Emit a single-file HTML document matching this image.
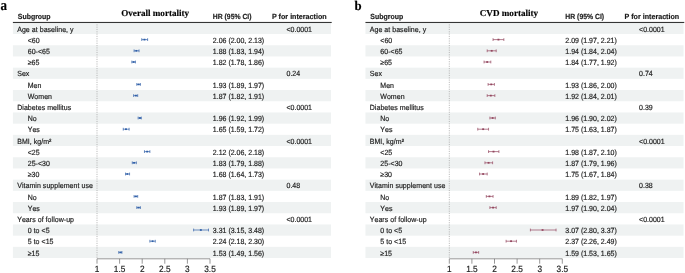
<!DOCTYPE html>
<html><head><meta charset="utf-8"><title>Forest plot</title>
<style>
html,body{margin:0;padding:0;background:#fff;}
svg{display:block}
text{font-family:"Liberation Sans",sans-serif;fill:#1c1c1c;text-rendering:geometricPrecision;stroke:#1c1c1c;stroke-width:0.18px}
.c{font-size:7.5px;font-kerning:none}
.l{letter-spacing:0.045px}
.h{font-size:7.45px;font-weight:bold}
.a{font-size:9.1px}
.t{font-family:"Liberation Serif",serif;font-weight:bold;font-size:9.1px;fill:#000}
.lab{font-family:"Liberation Serif",serif;font-weight:bold;font-size:14.7px;fill:#000}
</style></head><body>
<svg width="685" height="273" viewBox="0 0 685 273">
<rect width="685" height="273" fill="#fff"/>
<text transform="translate(0.6 9.95) scale(0.885 1)" class="lab">a</text>
<rect x="12.90" y="22.85" width="318.10" height="11.20" fill="#eff2f2"/>
<rect x="12.90" y="45.25" width="318.10" height="11.20" fill="#eff2f2"/>
<rect x="12.90" y="67.65" width="318.10" height="11.20" fill="#eff2f2"/>
<rect x="12.90" y="90.05" width="318.10" height="11.20" fill="#eff2f2"/>
<rect x="12.90" y="112.45" width="318.10" height="11.20" fill="#eff2f2"/>
<rect x="12.90" y="134.85" width="318.10" height="11.20" fill="#eff2f2"/>
<rect x="12.90" y="157.25" width="318.10" height="11.20" fill="#eff2f2"/>
<rect x="12.90" y="179.65" width="318.10" height="11.20" fill="#eff2f2"/>
<rect x="12.90" y="202.05" width="318.10" height="11.20" fill="#eff2f2"/>
<rect x="12.90" y="224.45" width="318.10" height="11.20" fill="#eff2f2"/>
<rect x="12.90" y="246.85" width="318.10" height="11.20" fill="#eff2f2"/>
<rect x="12.90" y="21.92" width="318.80" height="1.1" fill="#353535"/>
<line x1="97.00" y1="24.35" x2="97.00" y2="258.05" stroke="#a8a8a8" stroke-width="0.8" stroke-dasharray="1.1 1.2"/>
<text transform="translate(17.80 19.00) scale(0.934 1)" class="h">Subgroup</text>
<text transform="translate(155.20 16.10) scale(1 1)" class="t" text-anchor="middle">Overall mortality</text>
<text transform="translate(212.80 19.00) scale(0.9183087248322148 1)" class="h">HR (95% CI)</text>
<text transform="translate(272.00 19.00) scale(0.9607248322147652 1)" class="h">P for interaction</text>
<text transform="translate(17.20 31.60) scale(0.934 1)" class="c l">Age at baseline, y</text>
<text transform="translate(286.50 31.60) scale(0.934 1)" class="c">&lt;0.0001</text>
<text transform="translate(27.70 42.80) scale(0.934 1)" class="c l">&lt;60</text>
<text transform="translate(212.80 42.80) scale(0.934 1)" class="c">2.06 (2.00, 2.13)</text>
<g stroke="#2f5fa8" stroke-width="0.7" fill="#2f5fa8"><line x1="141.75" y1="39.60" x2="147.61" y2="39.60"/><line x1="141.75" y1="38.20" x2="141.75" y2="41.00"/><line x1="147.61" y1="38.20" x2="147.61" y2="41.00"/><rect x="143.51" y="38.75" width="1.9" height="1.7" stroke="none"/></g>
<text transform="translate(27.70 54.00) scale(0.934 1)" class="c l">60-&lt;65</text>
<text transform="translate(212.80 54.00) scale(0.934 1)" class="c">1.88 (1.83, 1.94)</text>
<g stroke="#2f5fa8" stroke-width="0.7" fill="#2f5fa8"><line x1="134.08" y1="50.80" x2="139.04" y2="50.80"/><line x1="134.08" y1="49.40" x2="134.08" y2="52.20"/><line x1="139.04" y1="49.40" x2="139.04" y2="52.20"/><rect x="135.39" y="49.95" width="1.9" height="1.7" stroke="none"/></g>
<text transform="translate(27.70 65.20) scale(0.934 1)" class="c l">≥65</text>
<text transform="translate(212.80 65.20) scale(0.934 1)" class="c">1.82 (1.78, 1.86)</text>
<g stroke="#2f5fa8" stroke-width="0.7" fill="#2f5fa8"><line x1="131.83" y1="62.00" x2="135.44" y2="62.00"/><line x1="131.83" y1="60.60" x2="131.83" y2="63.40"/><line x1="135.44" y1="60.60" x2="135.44" y2="63.40"/><rect x="132.68" y="61.15" width="1.9" height="1.7" stroke="none"/></g>
<text transform="translate(17.20 76.40) scale(0.934 1)" class="c l">Sex</text>
<text transform="translate(286.50 76.40) scale(0.934 1)" class="c">0.24</text>
<text transform="translate(27.70 87.60) scale(0.934 1)" class="c l">Men</text>
<text transform="translate(212.80 87.60) scale(0.934 1)" class="c">1.93 (1.89, 1.97)</text>
<g stroke="#2f5fa8" stroke-width="0.7" fill="#2f5fa8"><line x1="136.79" y1="84.40" x2="140.40" y2="84.40"/><line x1="136.79" y1="83.00" x2="136.79" y2="85.80"/><line x1="140.40" y1="83.00" x2="140.40" y2="85.80"/><rect x="137.64" y="83.55" width="1.9" height="1.7" stroke="none"/></g>
<text transform="translate(27.70 98.80) scale(0.934 1)" class="c l">Women</text>
<text transform="translate(212.80 98.80) scale(0.934 1)" class="c">1.87 (1.82, 1.91)</text>
<g stroke="#2f5fa8" stroke-width="0.7" fill="#2f5fa8"><line x1="133.63" y1="95.60" x2="137.69" y2="95.60"/><line x1="133.63" y1="94.20" x2="133.63" y2="97.00"/><line x1="137.69" y1="94.20" x2="137.69" y2="97.00"/><rect x="134.94" y="94.75" width="1.9" height="1.7" stroke="none"/></g>
<text transform="translate(17.20 110.00) scale(0.934 1)" class="c l">Diabetes mellitus</text>
<text transform="translate(286.50 110.00) scale(0.934 1)" class="c">&lt;0.0001</text>
<text transform="translate(27.70 121.20) scale(0.934 1)" class="c l">No</text>
<text transform="translate(212.80 121.20) scale(0.934 1)" class="c">1.96 (1.92, 1.99)</text>
<g stroke="#2f5fa8" stroke-width="0.7" fill="#2f5fa8"><line x1="138.14" y1="118.00" x2="141.30" y2="118.00"/><line x1="138.14" y1="116.60" x2="138.14" y2="119.40"/><line x1="141.30" y1="116.60" x2="141.30" y2="119.40"/><rect x="139.00" y="117.15" width="1.9" height="1.7" stroke="none"/></g>
<text transform="translate(27.70 132.40) scale(0.934 1)" class="c l">Yes</text>
<text transform="translate(212.80 132.40) scale(0.934 1)" class="c">1.65 (1.59, 1.72)</text>
<g stroke="#2f5fa8" stroke-width="0.7" fill="#2f5fa8"><line x1="123.26" y1="129.20" x2="129.12" y2="129.20"/><line x1="123.26" y1="127.80" x2="123.26" y2="130.60"/><line x1="129.12" y1="127.80" x2="129.12" y2="130.60"/><rect x="125.02" y="128.35" width="1.9" height="1.7" stroke="none"/></g>
<text transform="translate(17.20 143.60) scale(0.934 1)" class="c l">BMI, kg/m²</text>
<text transform="translate(286.50 143.60) scale(0.934 1)" class="c">&lt;0.0001</text>
<text transform="translate(27.70 154.80) scale(0.934 1)" class="c l">&lt;25</text>
<text transform="translate(212.80 154.80) scale(0.934 1)" class="c">2.12 (2.06, 2.18)</text>
<g stroke="#2f5fa8" stroke-width="0.7" fill="#2f5fa8"><line x1="144.46" y1="151.60" x2="149.87" y2="151.60"/><line x1="144.46" y1="150.20" x2="144.46" y2="153.00"/><line x1="149.87" y1="150.20" x2="149.87" y2="153.00"/><rect x="146.21" y="150.75" width="1.9" height="1.7" stroke="none"/></g>
<text transform="translate(27.70 166.00) scale(0.934 1)" class="c l">25-&lt;30</text>
<text transform="translate(212.80 166.00) scale(0.934 1)" class="c">1.83 (1.79, 1.88)</text>
<g stroke="#2f5fa8" stroke-width="0.7" fill="#2f5fa8"><line x1="132.28" y1="162.80" x2="136.34" y2="162.80"/><line x1="132.28" y1="161.40" x2="132.28" y2="164.20"/><line x1="136.34" y1="161.40" x2="136.34" y2="164.20"/><rect x="133.13" y="161.95" width="1.9" height="1.7" stroke="none"/></g>
<text transform="translate(27.70 177.20) scale(0.934 1)" class="c l">≥30</text>
<text transform="translate(212.80 177.20) scale(0.934 1)" class="c">1.68 (1.64, 1.73)</text>
<g stroke="#2f5fa8" stroke-width="0.7" fill="#2f5fa8"><line x1="125.51" y1="174.00" x2="129.57" y2="174.00"/><line x1="125.51" y1="172.60" x2="125.51" y2="175.40"/><line x1="129.57" y1="172.60" x2="129.57" y2="175.40"/><rect x="126.37" y="173.15" width="1.9" height="1.7" stroke="none"/></g>
<text transform="translate(17.20 188.40) scale(0.934 1)" class="c l">Vitamin supplement use</text>
<text transform="translate(286.50 188.40) scale(0.934 1)" class="c">0.48</text>
<text transform="translate(27.70 199.60) scale(0.934 1)" class="c l">No</text>
<text transform="translate(212.80 199.60) scale(0.934 1)" class="c">1.87 (1.83, 1.91)</text>
<g stroke="#2f5fa8" stroke-width="0.7" fill="#2f5fa8"><line x1="134.08" y1="196.40" x2="137.69" y2="196.40"/><line x1="134.08" y1="195.00" x2="134.08" y2="197.80"/><line x1="137.69" y1="195.00" x2="137.69" y2="197.80"/><rect x="134.94" y="195.55" width="1.9" height="1.7" stroke="none"/></g>
<text transform="translate(27.70 210.80) scale(0.934 1)" class="c l">Yes</text>
<text transform="translate(212.80 210.80) scale(0.934 1)" class="c">1.93 (1.89, 1.97)</text>
<g stroke="#2f5fa8" stroke-width="0.7" fill="#2f5fa8"><line x1="136.79" y1="207.60" x2="140.40" y2="207.60"/><line x1="136.79" y1="206.20" x2="136.79" y2="209.00"/><line x1="140.40" y1="206.20" x2="140.40" y2="209.00"/><rect x="137.64" y="206.75" width="1.9" height="1.7" stroke="none"/></g>
<text transform="translate(17.20 222.00) scale(0.934 1)" class="c l">Years of follow-up</text>
<text transform="translate(286.50 222.00) scale(0.934 1)" class="c">&lt;0.0001</text>
<text transform="translate(27.70 233.20) scale(0.934 1)" class="c l">0 to &lt;5</text>
<text transform="translate(212.80 233.20) scale(0.934 1)" class="c">3.31 (3.15, 3.48)</text>
<g stroke="#2f5fa8" stroke-width="0.7" fill="#2f5fa8"><line x1="193.62" y1="230.00" x2="208.50" y2="230.00"/><line x1="193.62" y1="228.60" x2="193.62" y2="231.40"/><line x1="208.50" y1="228.60" x2="208.50" y2="231.40"/><rect x="199.88" y="229.15" width="1.9" height="1.7" stroke="none"/></g>
<text transform="translate(27.70 244.40) scale(0.934 1)" class="c l">5 to &lt;15</text>
<text transform="translate(212.80 244.40) scale(0.934 1)" class="c">2.24 (2.18, 2.30)</text>
<g stroke="#2f5fa8" stroke-width="0.7" fill="#2f5fa8"><line x1="149.87" y1="241.20" x2="155.28" y2="241.20"/><line x1="149.87" y1="239.80" x2="149.87" y2="242.60"/><line x1="155.28" y1="239.80" x2="155.28" y2="242.60"/><rect x="151.62" y="240.35" width="1.9" height="1.7" stroke="none"/></g>
<text transform="translate(27.70 255.60) scale(0.934 1)" class="c l">≥15</text>
<text transform="translate(212.80 255.60) scale(0.934 1)" class="c">1.53 (1.49, 1.56)</text>
<g stroke="#2f5fa8" stroke-width="0.7" fill="#2f5fa8"><line x1="118.75" y1="252.40" x2="121.91" y2="252.40"/><line x1="118.75" y1="251.00" x2="118.75" y2="253.80"/><line x1="121.91" y1="251.00" x2="121.91" y2="253.80"/><rect x="119.60" y="251.55" width="1.9" height="1.7" stroke="none"/></g>
<g stroke="#6a6a6a" stroke-width="0.7" fill="none"><line x1="97.00" y1="258.8" x2="210.00" y2="258.8"/>
<line x1="97.00" y1="258.8" x2="97.00" y2="263.7"/>
<line x1="119.60" y1="258.8" x2="119.60" y2="263.7"/>
<line x1="142.20" y1="258.8" x2="142.20" y2="263.7"/>
<line x1="164.80" y1="258.8" x2="164.80" y2="263.7"/>
<line x1="187.40" y1="258.8" x2="187.40" y2="263.7"/>
<line x1="210.00" y1="258.8" x2="210.00" y2="263.7"/>
</g>
<text transform="translate(97.00 272.00) scale(0.91 1)" class="a" text-anchor="middle">1</text>
<text transform="translate(119.60 272.00) scale(0.91 1)" class="a" text-anchor="middle">1.5</text>
<text transform="translate(142.20 272.00) scale(0.91 1)" class="a" text-anchor="middle">2</text>
<text transform="translate(164.80 272.00) scale(0.91 1)" class="a" text-anchor="middle">2.5</text>
<text transform="translate(187.40 272.00) scale(0.91 1)" class="a" text-anchor="middle">3</text>
<text transform="translate(210.00 272.00) scale(0.91 1)" class="a" text-anchor="middle">3.5</text>
<text transform="translate(354.5 9.55) scale(0.97 1)" class="lab" style="font-size:13.2px">b</text>
<rect x="365.45" y="22.85" width="318.10" height="11.20" fill="#eff2f2"/>
<rect x="365.45" y="45.25" width="318.10" height="11.20" fill="#eff2f2"/>
<rect x="365.45" y="67.65" width="318.10" height="11.20" fill="#eff2f2"/>
<rect x="365.45" y="90.05" width="318.10" height="11.20" fill="#eff2f2"/>
<rect x="365.45" y="112.45" width="318.10" height="11.20" fill="#eff2f2"/>
<rect x="365.45" y="134.85" width="318.10" height="11.20" fill="#eff2f2"/>
<rect x="365.45" y="157.25" width="318.10" height="11.20" fill="#eff2f2"/>
<rect x="365.45" y="179.65" width="318.10" height="11.20" fill="#eff2f2"/>
<rect x="365.45" y="202.05" width="318.10" height="11.20" fill="#eff2f2"/>
<rect x="365.45" y="224.45" width="318.10" height="11.20" fill="#eff2f2"/>
<rect x="365.45" y="246.85" width="318.10" height="11.20" fill="#eff2f2"/>
<rect x="365.45" y="21.92" width="318.80" height="1.1" fill="#353535"/>
<line x1="449.30" y1="24.35" x2="449.30" y2="258.05" stroke="#a8a8a8" stroke-width="0.8" stroke-dasharray="1.1 1.2"/>
<text transform="translate(370.35 19.00) scale(0.934 1)" class="h">Subgroup</text>
<text transform="translate(508.95 16.10) scale(1 1)" class="t" text-anchor="middle">CVD mortality</text>
<text transform="translate(565.35 19.00) scale(0.9183087248322148 1)" class="h">HR (95% CI)</text>
<text transform="translate(624.55 19.00) scale(0.9607248322147652 1)" class="h">P for interaction</text>
<text transform="translate(369.75 31.60) scale(0.934 1)" class="c l">Age at baseline, y</text>
<text transform="translate(639.05 31.60) scale(0.934 1)" class="c">&lt;0.0001</text>
<text transform="translate(380.25 42.80) scale(0.934 1)" class="c l">&lt;60</text>
<text transform="translate(565.35 42.80) scale(0.934 1)" class="c">2.09 (1.97, 2.21)</text>
<g stroke="#93465e" stroke-width="0.7" fill="#93465e"><line x1="493.05" y1="39.60" x2="503.85" y2="39.60"/><line x1="493.05" y1="38.20" x2="493.05" y2="41.00"/><line x1="503.85" y1="38.20" x2="503.85" y2="41.00"/><rect x="497.50" y="38.75" width="1.9" height="1.7" stroke="none"/></g>
<text transform="translate(380.25 54.00) scale(0.934 1)" class="c l">60-&lt;65</text>
<text transform="translate(565.35 54.00) scale(0.934 1)" class="c">1.94 (1.84, 2.04)</text>
<g stroke="#93465e" stroke-width="0.7" fill="#93465e"><line x1="487.20" y1="50.80" x2="496.20" y2="50.80"/><line x1="487.20" y1="49.40" x2="487.20" y2="52.20"/><line x1="496.20" y1="49.40" x2="496.20" y2="52.20"/><rect x="490.75" y="49.95" width="1.9" height="1.7" stroke="none"/></g>
<text transform="translate(380.25 65.20) scale(0.934 1)" class="c l">≥65</text>
<text transform="translate(565.35 65.20) scale(0.934 1)" class="c">1.84 (1.77, 1.92)</text>
<g stroke="#93465e" stroke-width="0.7" fill="#93465e"><line x1="484.05" y1="62.00" x2="490.80" y2="62.00"/><line x1="484.05" y1="60.60" x2="484.05" y2="63.40"/><line x1="490.80" y1="60.60" x2="490.80" y2="63.40"/><rect x="486.25" y="61.15" width="1.9" height="1.7" stroke="none"/></g>
<text transform="translate(369.75 76.40) scale(0.934 1)" class="c l">Sex</text>
<text transform="translate(639.05 76.40) scale(0.934 1)" class="c">0.74</text>
<text transform="translate(380.25 87.60) scale(0.934 1)" class="c l">Men</text>
<text transform="translate(565.35 87.60) scale(0.934 1)" class="c">1.93 (1.86, 2.00)</text>
<g stroke="#93465e" stroke-width="0.7" fill="#93465e"><line x1="488.10" y1="84.40" x2="494.40" y2="84.40"/><line x1="488.10" y1="83.00" x2="488.10" y2="85.80"/><line x1="494.40" y1="83.00" x2="494.40" y2="85.80"/><rect x="490.30" y="83.55" width="1.9" height="1.7" stroke="none"/></g>
<text transform="translate(380.25 98.80) scale(0.934 1)" class="c l">Women</text>
<text transform="translate(565.35 98.80) scale(0.934 1)" class="c">1.92 (1.84, 2.01)</text>
<g stroke="#93465e" stroke-width="0.7" fill="#93465e"><line x1="487.20" y1="95.60" x2="494.85" y2="95.60"/><line x1="487.20" y1="94.20" x2="487.20" y2="97.00"/><line x1="494.85" y1="94.20" x2="494.85" y2="97.00"/><rect x="489.85" y="94.75" width="1.9" height="1.7" stroke="none"/></g>
<text transform="translate(369.75 110.00) scale(0.934 1)" class="c l">Diabetes mellitus</text>
<text transform="translate(639.05 110.00) scale(0.934 1)" class="c">0.39</text>
<text transform="translate(380.25 121.20) scale(0.934 1)" class="c l">No</text>
<text transform="translate(565.35 121.20) scale(0.934 1)" class="c">1.96 (1.90, 2.02)</text>
<g stroke="#93465e" stroke-width="0.7" fill="#93465e"><line x1="489.90" y1="118.00" x2="495.30" y2="118.00"/><line x1="489.90" y1="116.60" x2="489.90" y2="119.40"/><line x1="495.30" y1="116.60" x2="495.30" y2="119.40"/><rect x="491.65" y="117.15" width="1.9" height="1.7" stroke="none"/></g>
<text transform="translate(380.25 132.40) scale(0.934 1)" class="c l">Yes</text>
<text transform="translate(565.35 132.40) scale(0.934 1)" class="c">1.75 (1.63, 1.87)</text>
<g stroke="#93465e" stroke-width="0.7" fill="#93465e"><line x1="477.75" y1="129.20" x2="488.55" y2="129.20"/><line x1="477.75" y1="127.80" x2="477.75" y2="130.60"/><line x1="488.55" y1="127.80" x2="488.55" y2="130.60"/><rect x="482.20" y="128.35" width="1.9" height="1.7" stroke="none"/></g>
<text transform="translate(369.75 143.60) scale(0.934 1)" class="c l">BMI, kg/m²</text>
<text transform="translate(639.05 143.60) scale(0.934 1)" class="c">&lt;0.0001</text>
<text transform="translate(380.25 154.80) scale(0.934 1)" class="c l">&lt;25</text>
<text transform="translate(565.35 154.80) scale(0.934 1)" class="c">1.98 (1.87, 2.10)</text>
<g stroke="#93465e" stroke-width="0.7" fill="#93465e"><line x1="488.55" y1="151.60" x2="498.90" y2="151.60"/><line x1="488.55" y1="150.20" x2="488.55" y2="153.00"/><line x1="498.90" y1="150.20" x2="498.90" y2="153.00"/><rect x="492.55" y="150.75" width="1.9" height="1.7" stroke="none"/></g>
<text transform="translate(380.25 166.00) scale(0.934 1)" class="c l">25-&lt;30</text>
<text transform="translate(565.35 166.00) scale(0.934 1)" class="c">1.87 (1.79, 1.96)</text>
<g stroke="#93465e" stroke-width="0.7" fill="#93465e"><line x1="484.95" y1="162.80" x2="492.60" y2="162.80"/><line x1="484.95" y1="161.40" x2="484.95" y2="164.20"/><line x1="492.60" y1="161.40" x2="492.60" y2="164.20"/><rect x="487.60" y="161.95" width="1.9" height="1.7" stroke="none"/></g>
<text transform="translate(380.25 177.20) scale(0.934 1)" class="c l">≥30</text>
<text transform="translate(565.35 177.20) scale(0.934 1)" class="c">1.75 (1.67, 1.84)</text>
<g stroke="#93465e" stroke-width="0.7" fill="#93465e"><line x1="479.55" y1="174.00" x2="487.20" y2="174.00"/><line x1="479.55" y1="172.60" x2="479.55" y2="175.40"/><line x1="487.20" y1="172.60" x2="487.20" y2="175.40"/><rect x="482.20" y="173.15" width="1.9" height="1.7" stroke="none"/></g>
<text transform="translate(369.75 188.40) scale(0.934 1)" class="c l">Vitamin supplement use</text>
<text transform="translate(639.05 188.40) scale(0.934 1)" class="c">0.38</text>
<text transform="translate(380.25 199.60) scale(0.934 1)" class="c l">No</text>
<text transform="translate(565.35 199.60) scale(0.934 1)" class="c">1.89 (1.82, 1.97)</text>
<g stroke="#93465e" stroke-width="0.7" fill="#93465e"><line x1="486.30" y1="196.40" x2="493.05" y2="196.40"/><line x1="486.30" y1="195.00" x2="486.30" y2="197.80"/><line x1="493.05" y1="195.00" x2="493.05" y2="197.80"/><rect x="488.50" y="195.55" width="1.9" height="1.7" stroke="none"/></g>
<text transform="translate(380.25 210.80) scale(0.934 1)" class="c l">Yes</text>
<text transform="translate(565.35 210.80) scale(0.934 1)" class="c">1.97 (1.90, 2.04)</text>
<g stroke="#93465e" stroke-width="0.7" fill="#93465e"><line x1="489.90" y1="207.60" x2="496.20" y2="207.60"/><line x1="489.90" y1="206.20" x2="489.90" y2="209.00"/><line x1="496.20" y1="206.20" x2="496.20" y2="209.00"/><rect x="492.10" y="206.75" width="1.9" height="1.7" stroke="none"/></g>
<text transform="translate(369.75 222.00) scale(0.934 1)" class="c l">Years of follow-up</text>
<text transform="translate(639.05 222.00) scale(0.934 1)" class="c">&lt;0.0001</text>
<text transform="translate(380.25 233.20) scale(0.934 1)" class="c l">0 to &lt;5</text>
<text transform="translate(565.35 233.20) scale(0.934 1)" class="c">3.07 (2.80, 3.37)</text>
<g stroke="#93465e" stroke-width="0.7" fill="#93465e"><line x1="530.40" y1="230.00" x2="556.05" y2="230.00"/><line x1="530.40" y1="228.60" x2="530.40" y2="231.40"/><line x1="556.05" y1="228.60" x2="556.05" y2="231.40"/><rect x="541.60" y="229.15" width="1.9" height="1.7" stroke="none"/></g>
<text transform="translate(380.25 244.40) scale(0.934 1)" class="c l">5 to &lt;15</text>
<text transform="translate(565.35 244.40) scale(0.934 1)" class="c">2.37 (2.26, 2.49)</text>
<g stroke="#93465e" stroke-width="0.7" fill="#93465e"><line x1="506.10" y1="241.20" x2="516.45" y2="241.20"/><line x1="506.10" y1="239.80" x2="506.10" y2="242.60"/><line x1="516.45" y1="239.80" x2="516.45" y2="242.60"/><rect x="510.10" y="240.35" width="1.9" height="1.7" stroke="none"/></g>
<text transform="translate(380.25 255.60) scale(0.934 1)" class="c l">≥15</text>
<text transform="translate(565.35 255.60) scale(0.934 1)" class="c">1.59 (1.53, 1.65)</text>
<g stroke="#93465e" stroke-width="0.7" fill="#93465e"><line x1="473.25" y1="252.40" x2="478.65" y2="252.40"/><line x1="473.25" y1="251.00" x2="473.25" y2="253.80"/><line x1="478.65" y1="251.00" x2="478.65" y2="253.80"/><rect x="475.00" y="251.55" width="1.9" height="1.7" stroke="none"/></g>
<g stroke="#6a6a6a" stroke-width="0.7" fill="none"><line x1="449.30" y1="258.8" x2="562.30" y2="258.8"/>
<line x1="449.30" y1="258.8" x2="449.30" y2="263.7"/>
<line x1="471.90" y1="258.8" x2="471.90" y2="263.7"/>
<line x1="494.50" y1="258.8" x2="494.50" y2="263.7"/>
<line x1="517.10" y1="258.8" x2="517.10" y2="263.7"/>
<line x1="539.70" y1="258.8" x2="539.70" y2="263.7"/>
<line x1="562.30" y1="258.8" x2="562.30" y2="263.7"/>
</g>
<text transform="translate(449.30 272.00) scale(0.91 1)" class="a" text-anchor="middle">1</text>
<text transform="translate(471.90 272.00) scale(0.91 1)" class="a" text-anchor="middle">1.5</text>
<text transform="translate(494.50 272.00) scale(0.91 1)" class="a" text-anchor="middle">2</text>
<text transform="translate(517.10 272.00) scale(0.91 1)" class="a" text-anchor="middle">2.5</text>
<text transform="translate(539.70 272.00) scale(0.91 1)" class="a" text-anchor="middle">3</text>
<text transform="translate(562.30 272.00) scale(0.91 1)" class="a" text-anchor="middle">3.5</text>
</svg>
</body></html>
